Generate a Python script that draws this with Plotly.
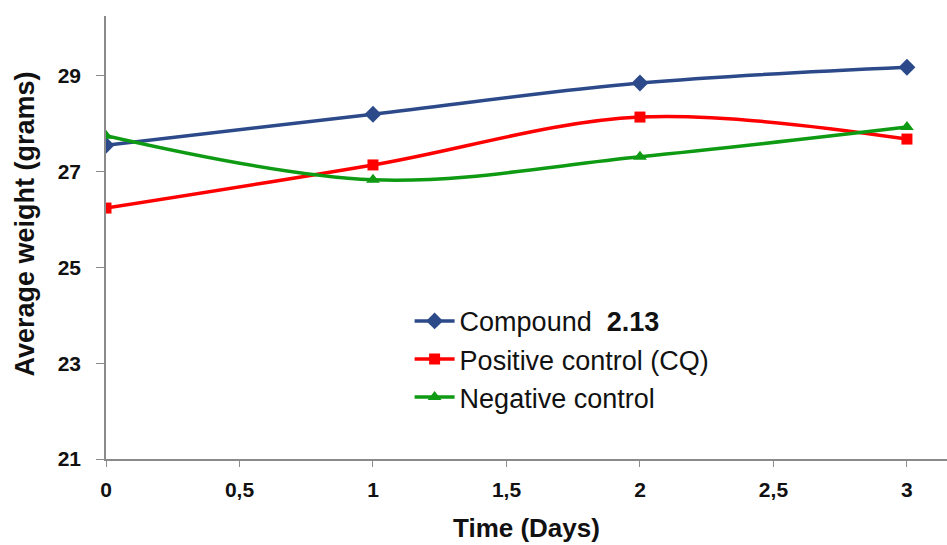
import plotly.graph_objects as go

# Time points (days) and average body weight (grams) per group
days = [0, 1, 2, 3]
compound_213 = [27.55, 28.20, 28.85, 29.18]
positive_cq = [26.24, 27.14, 28.14, 27.68]
negative_ctrl = [27.75, 26.83, 27.31, 27.93]

x_ticks = [0, 0.5, 1, 1.5, 2, 2.5, 3]
x_tick_text = ["0", "0,5", "1", "1,5", "2", "2,5", "3"]
y_ticks = [21, 23, 25, 27, 29]

series = [
    ("Compound  <b>2.13</b>", compound_213, "#2C4A8A", "diamond", 13),
    ("Positive control (CQ)", positive_cq, "#FF0000", "square", 11),
    ("Negative control", negative_ctrl, "#0E9A12", "triangle-up", 12),
]

fig = go.Figure()
for name, vals, color, symbol, size in series:
    fig.add_trace(go.Scatter(
        x=days, y=vals, name=name, mode="lines+markers",
        line=dict(color=color, width=3.5, shape="spline", smoothing=1.0),
        marker=dict(symbol=symbol, size=size, color=color),
    ))

base_font = "Liberation Sans, Arial, sans-serif"
tick_font = dict(family=base_font, size=21, color="#111111", weight="bold")

fig.update_layout(
    width=947, height=545,
    margin=dict(l=106, r=0, t=16, b=86),
    paper_bgcolor="white", plot_bgcolor="white",
    showlegend=True,
    legend=dict(
        x=0.361, y=0.366, xanchor="left", yanchor="top",
        font=dict(family=base_font, size=27, color="#111111"),
        bgcolor="rgba(0,0,0,0)", tracegroupgap=0, itemwidth=40,
    ),
    xaxis=dict(
        range=[0, 3.15], tickvals=x_ticks, ticktext=x_tick_text,
        showgrid=False, zeroline=False, showline=True, linecolor="#8A8A8A", linewidth=1.5,
        ticks="outside", ticklen=6, tickcolor="#8A8A8A", ticklabelstandoff=5,
        tickfont=tick_font,
    ),
    yaxis=dict(
        range=[21, 30.25], tickvals=y_ticks,
        showgrid=False, zeroline=False, showline=True, linecolor="#8A8A8A", linewidth=1.5,
        ticks="outside", ticklen=8, tickcolor="#8A8A8A", ticklabelstandoff=11,
        tickfont=tick_font,
    ),
    annotations=[
        dict(text="<b>Time (Days)</b>", xref="paper", yref="paper",
             x=0.5, y=-0.155, xanchor="center", yanchor="middle", showarrow=False,
             font=dict(family=base_font, size=26, color="#111111")),
        dict(text="<b>Average weight (grams)</b>", xref="paper", yref="paper",
             x=-0.096, y=0.53, xanchor="center", yanchor="middle", showarrow=False,
             textangle=-90,
             font=dict(family=base_font, size=27, color="#111111")),
    ],
)

fig.write_html("out.html")
